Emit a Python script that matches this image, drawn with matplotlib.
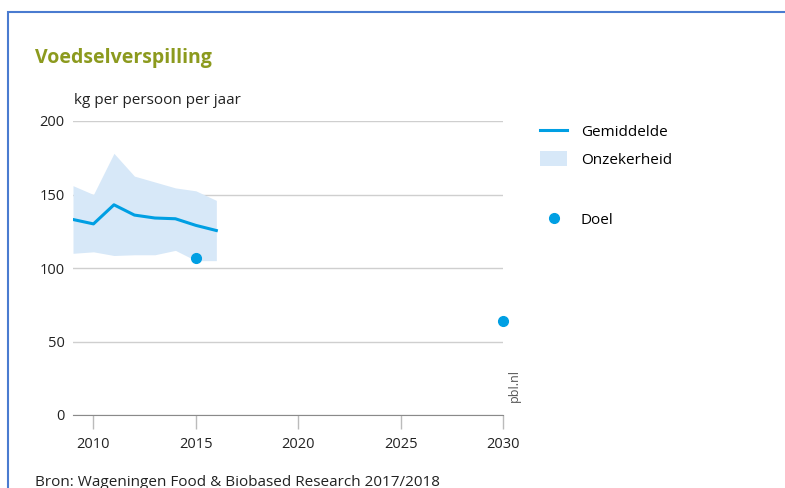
import matplotlib
matplotlib.use('Agg')
import matplotlib.pyplot as plt
from matplotlib.patches import Rectangle

plt.rcParams['font.family'] = ['Open Sans', 'DejaVu Sans']

years = [2009, 2010, 2011, 2012, 2013, 2014, 2015, 2016]
mean = [133, 130, 143, 136, 134, 133.5, 129, 125.5]
upper = [156, 150, 178, 162.5, 158.5, 154.5, 152.5, 146]
lower = [110, 111, 108.5, 109, 109, 112, 105, 105]
goal_years = [2015, 2030]
goal = [106.5, 64]

blue = '#009fe3'
band = '#d7e8f8'
title_color = '#8c9a1e'

fig = plt.figure(figsize=(7.85, 4.88), dpi=100)
fig.patches.append(Rectangle((8 / 785, -0.1), 1.0, (488 - 12) / 488 + 0.1,
                             transform=fig.transFigure, fill=False,
                             edgecolor='#4a7bd0', linewidth=1.5))

ax = fig.add_axes([73 / 785, 1 - 415 / 488, 430 / 785, 294 / 488])
ax.fill_between(years, lower, upper, color=band, linewidth=0, label='Onzekerheid')
ax.plot(years, mean, color=blue, linewidth=2.2, label='Gemiddelde')
ax.plot(goal_years, goal, 'o', color=blue, markersize=7, label='Doel', clip_on=False)

ax.set_xlim(2009, 2030)
ax.set_ylim(0, 200)
ax.set_yticks([0, 50, 100, 150, 200])
ax.set_xticks([2010, 2015, 2020, 2025, 2030])
ax.grid(axis='y', color='#cfcfcf', linewidth=1)
ax.set_axisbelow(True)
for s in ['top', 'right', 'left']:
    ax.spines[s].set_visible(False)
ax.spines['bottom'].set_color('#8a8a8a')
ax.tick_params(axis='y', length=0, pad=6, labelsize=10.5, colors='#222222')
ax.tick_params(axis='x', length=10, width=1, color='#bbbbbb', pad=6,
               labelsize=10.5, labelcolor='#222222')

fig.text(35 / 785, 1 - 58 / 488, 'Voedselverspilling', color=title_color,
         fontsize=14, fontweight='bold', va='center')
fig.text(74 / 785, 1 - 100 / 488, 'kg per persoon per jaar', fontsize=11,
         va='center', color='#222222')
fig.text(514 / 785, 1 - 385 / 488, 'pbl.nl', rotation=90, fontsize=9,
         va='center', ha='center', color='#555555')
fig.text(35 / 785, 1 - 482 / 488, 'Bron: Wageningen Food & Biobased Research 2017/2018',
         fontsize=11, va='center', color='#222222')

h, l = ax.get_legend_handles_labels()
order = [1, 0]
fig.legend([h[i] for i in order], [l[i] for i in order],
           loc='upper left', bbox_to_anchor=(526 / 785, 1 - 110 / 488),
           frameon=False, fontsize=11, handlelength=1.8, handleheight=1.1,
           handletextpad=0.9, labelspacing=0.7)
fig.legend([h[2]], [l[2]], loc='upper left', bbox_to_anchor=(526 / 785, 1 - 199 / 488),
           frameon=False, fontsize=11, handlelength=1.8, handletextpad=0.9)

fig.savefig('out.png', dpi=100)
